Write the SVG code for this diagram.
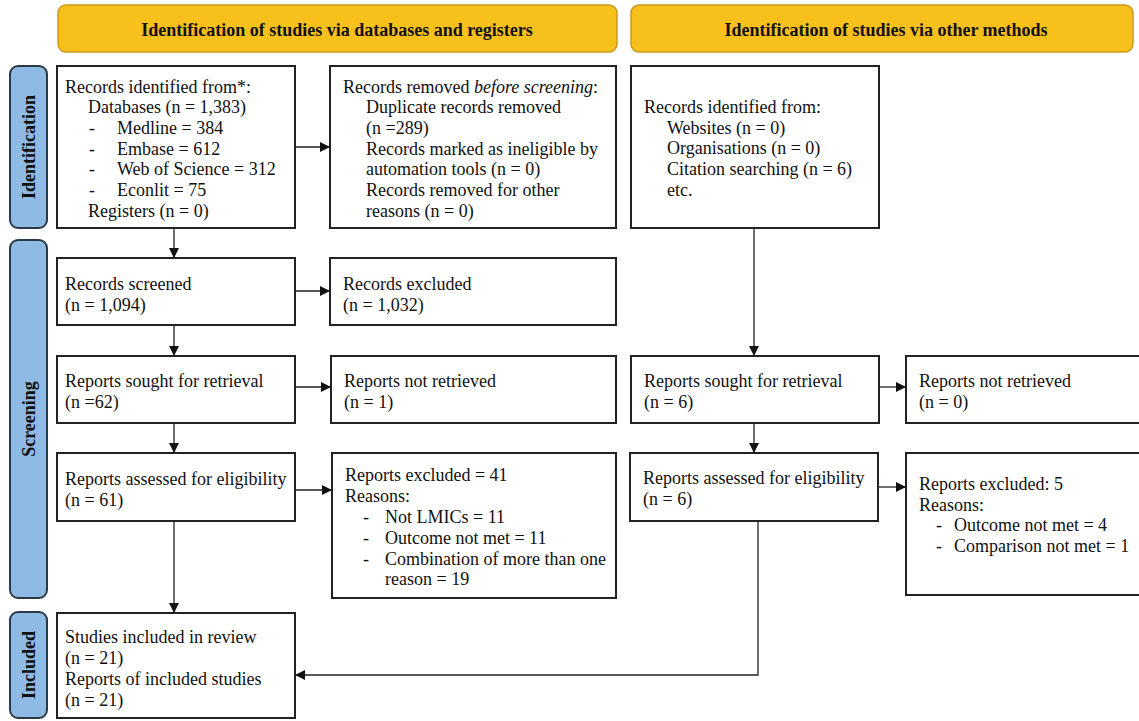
<svg xmlns="http://www.w3.org/2000/svg" width="1139" height="721" viewBox="0 0 1139 721" font-family="'Liberation Serif', Tinos, 'Times New Roman', 'DejaVu Serif', serif">
<style>
.hdr{fill:#F8C01A;stroke:#C99A1E;stroke-width:1.5}
.side{fill:#8EBAE3;stroke:#2B3A48;stroke-width:2}
.box{fill:#fff;stroke:#222;stroke-width:2}
text{font-family:'Liberation Serif', Tinos, 'Times New Roman', 'DejaVu Serif', serif;font-size:18px;fill:#111}
.ht{font-weight:bold;font-size:18px;text-anchor:middle}
.st{font-weight:bold;font-size:18px;text-anchor:middle}
.con{stroke:#222;stroke-width:1.3;fill:none}
</style>
<defs>
<marker id="ah" viewBox="0 0 10 10" refX="10" refY="5" markerWidth="10" markerHeight="10" markerUnits="userSpaceOnUse" orient="auto">
<path d="M0,0 L10,5 L0,10 z" fill="#111"/>
</marker>
</defs>
<rect width="1139" height="721" fill="#fff"/>
<g id="hdr1"><rect class="hdr" x="58" y="5" width="559" height="47" rx="8"/><text class="ht" x="337" y="36">Identification of studies via databases and registers</text></g>
<g id="hdr2"><rect class="hdr" x="631" y="5" width="502" height="47" rx="8"/><text class="ht" x="886" y="36">Identification of studies via other methods</text></g>
<g id="side-identification"><rect class="side" x="10" y="66" width="37" height="162" rx="8"/><text class="st" transform="translate(35,147) rotate(-90)">Identification</text></g>
<g id="side-screening"><rect class="side" x="10" y="240" width="37" height="358" rx="8"/><text class="st" transform="translate(35,419) rotate(-90)">Screening</text></g>
<g id="side-included"><rect class="side" x="10" y="612" width="37" height="106" rx="8"/><text class="st" transform="translate(35,665) rotate(-90)">Included</text></g>

<g id="n-identified">
<rect class="box" x="57" y="66" width="238" height="162"/>
<text x="65" y="93">Records identified from*:</text>
<text x="88" y="113">Databases (n = 1,383)</text>
<text x="89" y="134">-</text><text x="117" y="134">Medline = 384</text>
<text x="89" y="155">-</text><text x="117" y="155">Embase = 612</text>
<text x="89" y="175">-</text><text x="117" y="175">Web of Science = 312</text>
<text x="89" y="196">-</text><text x="117" y="196">Econlit = 75</text>
<text x="88" y="217">Registers (n = 0)</text>
</g>
<g id="n-removed">
<rect class="box" x="330" y="66" width="286" height="162"/>
<text x="343" y="93">Records removed <tspan font-style="italic">before screening</tspan>:</text>
<text x="366" y="113">Duplicate records removed</text>
<text x="366" y="134">(n =289)</text>
<text x="366" y="155">Records marked as ineligible by</text>
<text x="366" y="175">automation tools (n = 0)</text>
<text x="366" y="196">Records removed for other</text>
<text x="366" y="217">reasons (n = 0)</text>
</g>
<g id="n-other">
<rect class="box" x="631" y="66" width="248" height="162"/>
<text x="644" y="113">Records identified from:</text>
<text x="667" y="134">Websites (n = 0)</text>
<text x="667" y="154">Organisations (n = 0)</text>
<text x="667" y="175">Citation searching (n = 6)</text>
<text x="667" y="196">etc.</text>
</g>
<g id="n-screened"><rect class="box" x="57" y="258" width="238" height="67"/><text x="65" y="290">Records screened</text><text x="65" y="311">(n = 1,094)</text></g>
<g id="n-excluded"><rect class="box" x="330" y="258" width="286" height="67"/><text x="343" y="290">Records excluded</text><text x="343" y="311">(n = 1,032)</text></g>
<g id="n-sought"><rect class="box" x="57" y="356" width="238" height="67"/><text x="65" y="387">Reports sought for retrieval</text><text x="65" y="408">(n =62)</text></g>
<g id="n-notretrieved"><rect class="box" x="331" y="356" width="285" height="67"/><text x="344" y="387">Reports not retrieved</text><text x="344" y="408">(n = 1)</text></g>
<g id="n-assessed"><rect class="box" x="57" y="453" width="238" height="68"/><text x="65" y="485">Reports assessed for eligibility</text><text x="65" y="506">(n = 61)</text></g>
<g id="n-repexcluded">
<rect class="box" x="332" y="453" width="284" height="145"/>
<text x="345" y="481">Reports excluded = 41</text>
<text x="345" y="502">Reasons:</text>
<text x="363" y="523">-</text><text x="385" y="523">Not LMICs = 11</text>
<text x="363" y="544">-</text><text x="385" y="544">Outcome not met = 11</text>
<text x="363" y="565">-</text><text x="385" y="565">Combination of more than one</text>
<text x="385" y="585">reason = 19</text>
</g>
<g id="n-included">
<rect class="box" x="57" y="613" width="238" height="105"/>
<text x="65" y="643">Studies included in review</text>
<text x="65" y="664">(n = 21)</text>
<text x="65" y="685">Reports of included studies</text>
<text x="65" y="706">(n = 21)</text>
</g>
<g id="n-sought2"><rect class="box" x="631" y="356" width="248" height="67"/><text x="644" y="387">Reports sought for retrieval</text><text x="644" y="408">(n = 6)</text></g>
<g id="n-notretrieved2"><rect class="box" x="906" y="356" width="240" height="67"/><text x="919" y="387">Reports not retrieved</text><text x="919" y="408">(n = 0)</text></g>
<g id="n-assessed2"><rect class="box" x="630" y="453" width="248" height="68"/><text x="643" y="484">Reports assessed for eligibility</text><text x="643" y="505">(n = 6)</text></g>
<g id="n-repexcluded2">
<rect class="box" x="906" y="453" width="240" height="142"/>
<text x="919" y="490">Reports excluded: 5</text>
<text x="919" y="511">Reasons:</text>
<text x="936" y="531">-</text><text x="954" y="531">Outcome not met = 4</text>
<text x="936" y="552">-</text><text x="954" y="552">Comparison not met = 1</text>
</g>

<g id="connectors">
<line class="con" x1="174" y1="228" x2="174" y2="258" marker-end="url(#ah)"/>
<line class="con" x1="295" y1="147" x2="330" y2="147" marker-end="url(#ah)"/>
<line class="con" x1="295" y1="291" x2="330" y2="291" marker-end="url(#ah)"/>
<line class="con" x1="174" y1="325" x2="174" y2="356" marker-end="url(#ah)"/>
<line class="con" x1="295" y1="387" x2="331" y2="387" marker-end="url(#ah)"/>
<line class="con" x1="174" y1="423" x2="174" y2="453" marker-end="url(#ah)"/>
<line class="con" x1="295" y1="490" x2="332" y2="490" marker-end="url(#ah)"/>
<line class="con" x1="174" y1="521" x2="174" y2="613" marker-end="url(#ah)"/>
<line class="con" x1="754" y1="228" x2="754" y2="356" marker-end="url(#ah)"/>
<line class="con" x1="879" y1="387" x2="906" y2="387" marker-end="url(#ah)"/>
<line class="con" x1="754" y1="423" x2="754" y2="453" marker-end="url(#ah)"/>
<line class="con" x1="878" y1="487" x2="906" y2="487" marker-end="url(#ah)"/>
<polyline class="con" points="758,521 758,675 295,675" marker-end="url(#ah)"/>
</g>
</svg>
